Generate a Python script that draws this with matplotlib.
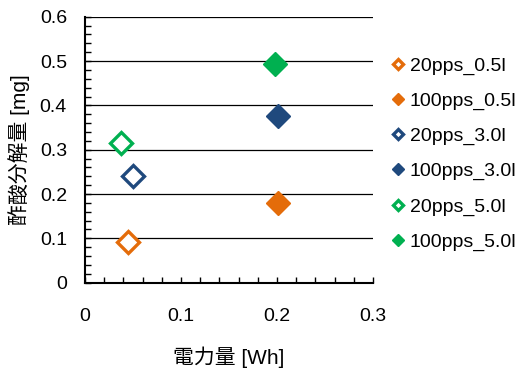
import matplotlib
matplotlib.use('Agg')
import matplotlib.pyplot as plt
from matplotlib.ticker import MultipleLocator

plt.rcParams['font.family'] = ['Liberation Sans', 'Noto Sans CJK JP', 'DejaVu Sans']

# Data
labels = ['20pps_0.5l', '100pps_0.5l', '20pps_3.0l', '100pps_3.0l', '20pps_5.0l', '100pps_5.0l']
energy = [0.045, 0.201, 0.050, 0.201, 0.037, 0.198]   # 電力量 [Wh]
decomp = [0.092, 0.179, 0.241, 0.376, 0.316, 0.493]  # 酢酸分解量 [mg]
colors = ['#E46C0A', '#E46C0A', '#1F497D', '#1F497D', '#00B050', '#00B050']
filled = [False, True, False, True, False, True]

fig = plt.figure(figsize=(5.22, 3.69), dpi=100)
ax = fig.add_axes([0.1628, 0.2339, 0.7146 - 0.1628, 0.9547 - 0.2339])

for x, y, lab, c, f in zip(energy, decomp, labels, colors, filled):
    if f:
        ax.plot([x], [y], linestyle='none', marker='D', markersize=12,
                color=c, markeredgecolor=c, label=lab, zorder=3)
    else:
        ax.plot([x], [y], linestyle='none', marker='D', markersize=11,
                markerfacecolor='white', markeredgecolor=c,
                markeredgewidth=2.4, label=lab, zorder=3)

ax.set_xlim(0, 0.3)
ax.set_ylim(0, 0.6)
ax.xaxis.set_major_locator(MultipleLocator(0.1))
ax.xaxis.set_minor_locator(MultipleLocator(0.02))
ax.yaxis.set_major_locator(MultipleLocator(0.1))
ax.yaxis.set_minor_locator(MultipleLocator(0.02))
ax.set_xticks([0, 0.1, 0.2, 0.3])
ax.set_xticklabels(['0', '0.1', '0.2', '0.3'])
ax.set_yticks([0, 0.1, 0.2, 0.3, 0.4, 0.5, 0.6])
ax.set_yticklabels(['0', '0.1', '0.2', '0.3', '0.4', '0.5', '0.6'])

ax.tick_params(which='both', direction='in', length=4, width=1, color='black',
               labelsize=14)
ax.tick_params(axis='x', which='major', pad=18)
ax.tick_params(axis='y', which='major', pad=13)

ax.spines['top'].set_visible(False)
ax.spines['right'].set_visible(False)
ax.spines['left'].set_linewidth(1.5)
ax.spines['bottom'].set_linewidth(1.5)
ax.yaxis.grid(True, which='major', color='black', linewidth=0.9)
ax.set_axisbelow(True)

ax.set_xlabel('電力量 [Wh]', fontsize=15, labelpad=16)
ax.set_ylabel('酢酸分解量 [mg]', fontsize=15, labelpad=7)

ax.legend(loc='center left', bbox_to_anchor=(0.737, 0.583), bbox_transform=fig.transFigure,
          frameon=False, fontsize=14, markerscale=0.5, handlelength=0.6,
          handletextpad=0.3, labelspacing=0.9, borderaxespad=0)

fig.savefig('out.png', dpi=100)
